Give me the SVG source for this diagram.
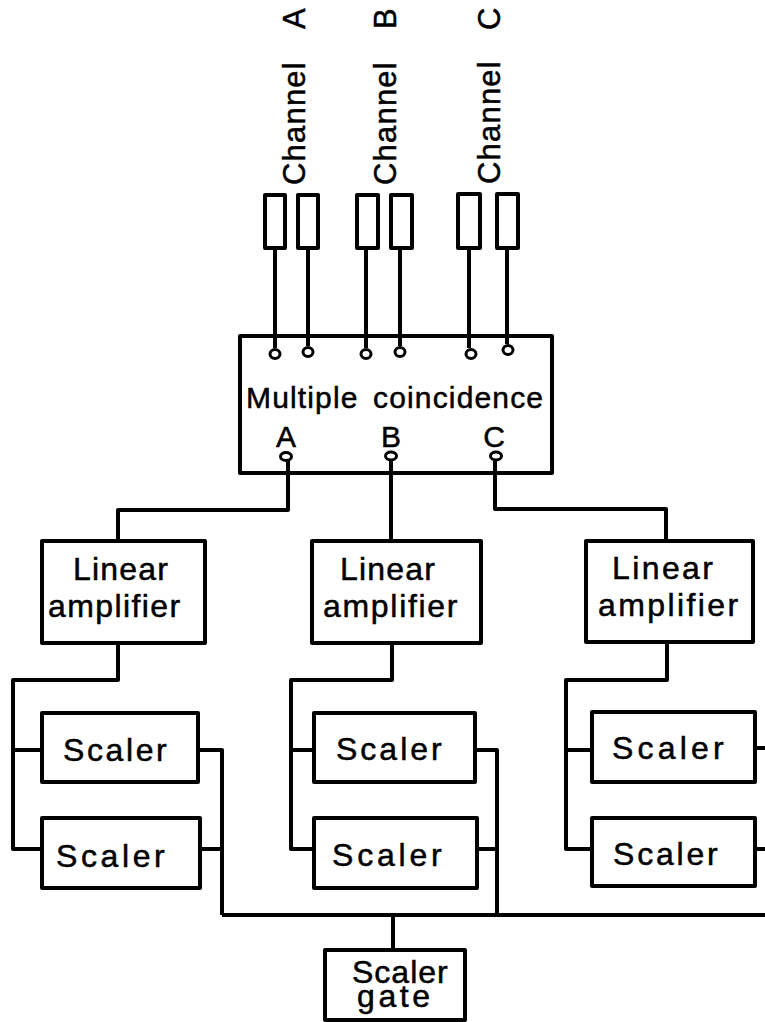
<svg xmlns="http://www.w3.org/2000/svg" width="765" height="1022" viewBox="0 0 765 1022">
<style>
rect.b{fill:none;stroke:#000;stroke-width:4;stroke-linejoin:round}
ellipse{fill:#fff;stroke:#000;stroke-width:3}
.c{fill:none;stroke:#000;stroke-width:4;stroke-linejoin:round}
text{font-family:"Liberation Sans",Arial,sans-serif;fill:#000;stroke:#000;stroke-width:.5;font-size:32px}
.m{text-anchor:middle;font-size:30px}
.h{font-size:31px;letter-spacing:1.2px}
</style>
<rect width="765" height="1022" fill="#fff"/>
<g id="connectors">
<path class="c" d="M275 248V348M308 248V346M366 248V348M400 248V346M469 248V348M507 248V344"/>
<path class="c" d="M288 461V510H118V541M391 461V541M495 461V509H666V541"/>
<path class="c" d="M118 643V680H13V849H42M13 750H42M198 750H222V915M200 849H222"/>
<path class="c" d="M392 643V680H291V849H314M291 750H314M475 750H497V915M477 849H497"/>
<path class="c" d="M667 642V680H566V849H592M566 750H592M755 748H765M755 849H765"/>
<path class="c" d="M222 915H765M393 915V950"/>
</g>
<g id="channel-a"><text class="h" transform="translate(305 185) rotate(-90)">Channel<tspan dx="32">A</tspan></text>
<rect class="b" x="265" y="195" width="20" height="53"/><rect class="b" x="298" y="195" width="20" height="53"/></g>
<g id="channel-b"><text class="h" transform="translate(396 185) rotate(-90)">Channel<tspan dx="32">B</tspan></text>
<rect class="b" x="357" y="195" width="21" height="53"/><rect class="b" x="391" y="195" width="21" height="53"/></g>
<g id="channel-c"><text class="h" transform="translate(500 184) rotate(-90)">Channel<tspan dx="30">C</tspan></text>
<rect class="b" x="458" y="194" width="22" height="54"/><rect class="b" x="497" y="194" width="21" height="54"/></g>
<g id="multiple-coincidence">
<rect class="b" x="240" y="336" width="312" height="137"/>
<ellipse cx="275" cy="354" rx="5" ry="4.5"/><ellipse cx="308" cy="352" rx="5" ry="4.5"/><ellipse cx="366" cy="354" rx="5" ry="4.5"/><ellipse cx="400" cy="352" rx="5" ry="4.5"/><ellipse cx="471" cy="354" rx="5" ry="4.5"/><ellipse cx="508" cy="350" rx="5" ry="4.5"/>
<text x="246" y="408" style="font-size:30px" letter-spacing="1.150" word-spacing="5">Multiple coincidence</text>
<text class="m" x="286" y="447">A</text><text class="m" x="391" y="447">B</text><text class="m" x="494" y="447">C</text>
<ellipse cx="286" cy="456.500" rx="5.500" ry="4"/><ellipse cx="391" cy="456" rx="5.500" ry="4"/><ellipse cx="496" cy="456" rx="5.500" ry="4"/>
</g>
<g id="amp-a"><rect class="b" x="42" y="541" width="163" height="102"/><text x="73" y="580" letter-spacing="1.200">Linear</text><text x="48" y="617" letter-spacing="1.400">amplifier</text></g>
<g id="amp-b"><rect class="b" x="312" y="541" width="169" height="102"/><text x="340" y="580" letter-spacing="1.200">Linear</text><text x="323" y="617" letter-spacing="1.700">amplifier</text></g>
<g id="amp-c"><rect class="b" x="586" y="541" width="167" height="101"/><text x="612" y="579" letter-spacing="2.400">Linear</text><text x="598" y="616" letter-spacing="2.400">amplifier</text></g>
<g id="scaler-a1"><rect class="b" x="42" y="713" width="156" height="69"/><text x="63" y="761" letter-spacing="2.600">Scaler</text></g>
<g id="scaler-a2"><rect class="b" x="42" y="818" width="158" height="70"/><text x="56" y="867" letter-spacing="3.600">Scaler</text></g>
<g id="scaler-b1"><rect class="b" x="314" y="713" width="161" height="69"/><text x="336" y="760" letter-spacing="3">Scaler</text></g>
<g id="scaler-b2"><rect class="b" x="314" y="818" width="163" height="70"/><text x="332" y="866" letter-spacing="3.800">Scaler</text></g>
<g id="scaler-c1"><rect class="b" x="592" y="712" width="163" height="70"/><text x="612" y="759" letter-spacing="4.200">Scaler</text></g>
<g id="scaler-c2"><rect class="b" x="592" y="818" width="163" height="68"/><text x="613" y="865" letter-spacing="2.800">Scaler</text></g>
<g id="scaler-gate"><rect class="b" x="325" y="950" width="140" height="70"/><text x="352" y="983" letter-spacing="1">Scaler</text><text x="357" y="1007" letter-spacing="3.600">gate</text></g>
</svg>
